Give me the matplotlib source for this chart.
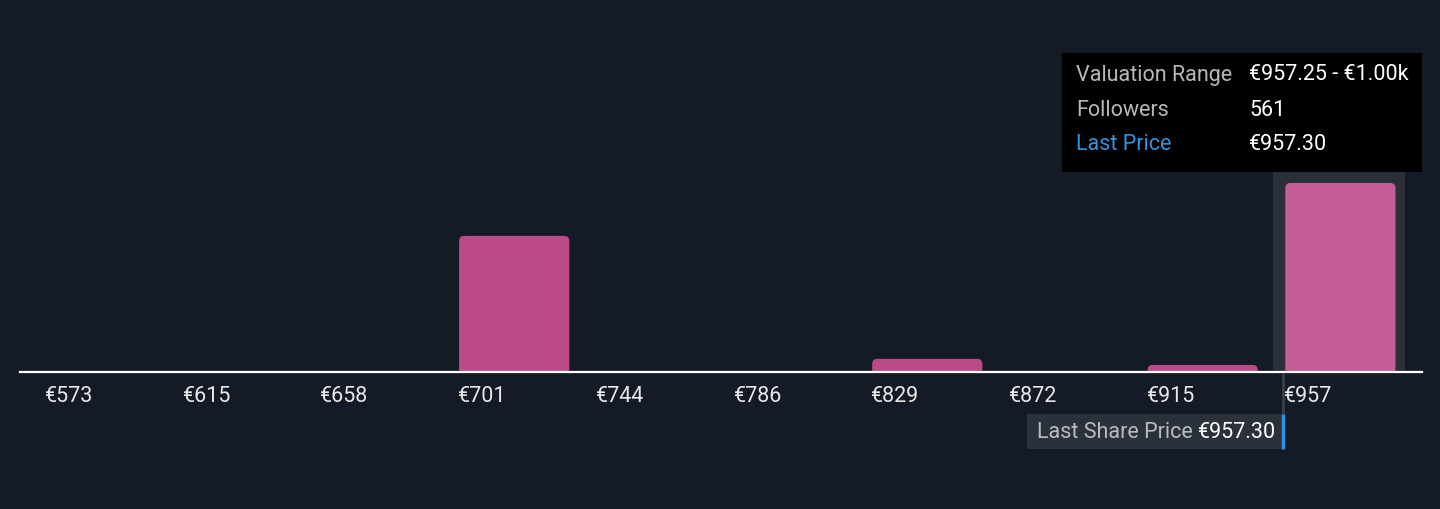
import matplotlib
matplotlib.use("Agg")
import matplotlib.pyplot as plt
from matplotlib.patches import FancyBboxPatch, Rectangle
from matplotlib.lines import Line2D

# ---- data ----
bin_starts = [572.5, 615.25, 658.0, 700.75, 743.5, 786.25, 829.0, 871.75, 914.5, 957.25]
bin_width = 42.75
counts = [0, 0, 0, 404, 0, 0, 39, 0, 21, 561]
tick_labels = ["€573", "€615", "€658", "€701", "€744", "€786", "€829", "€872", "€915", "€957"]
last_price = 957.30
highlight_index = 9
tooltip_rows = [("Valuation Range", "€957.25 - €1.00k"), ("Followers", "561"), ("Last Price", "€957.30")]

# ---- style ----
BG = "#151b26"
BAR = "#bb4b88"
BAR_HI = "#c55d97"
HI_BG = "#2a2f38"
W, H = 1440, 509
plt.rcParams["font.family"] = ["Roboto", "DejaVu Sans"]
FS = 15.5

fig = plt.figure(figsize=(W / 100, H / 100), dpi=100, facecolor=BG)
ax = fig.add_axes([0, 0, 1, 1], facecolor=BG)

px_per_unit = 137.7 / bin_width
x0_px = 45.0
xmin = bin_starts[0] - x0_px / px_per_unit
xmax = xmin + W / px_per_unit
axis_px = 372  # from top
y_per_px = counts[-1] / 189.0
ymin = -(H - axis_px) * y_per_px
ymax = axis_px * y_per_px
ax.set_xlim(xmin, xmax)
ax.set_ylim(ymin, ymax)
for s in ax.spines.values():
    s.set_visible(False)
ax.set_yticks([])
ax.set_xticks([])

ux = 1 / px_per_unit  # data x per px
bar_w = 0.8 * bin_width

# highlight background
hs = bin_starts[highlight_index]
ax.add_patch(Rectangle((hs - 11 * ux, 0), bar_w + 22 * ux, 200 * y_per_px,
                       facecolor=HI_BG, edgecolor="none", zorder=1))

clip = Rectangle((xmin, 0), xmax - xmin, ymax, transform=ax.transData)
r = 5 * ux
for i, (s, c) in enumerate(zip(bin_starts, counts)):
    if c <= 0:
        continue
    col = BAR_HI if i == highlight_index else BAR
    p = FancyBboxPatch((s + 1 * ux, -10 * y_per_px), bar_w, c + 10 * y_per_px,
                       boxstyle=f"round,pad=0,rounding_size={r}",
                       mutation_aspect=y_per_px / ux,
                       facecolor=col, edgecolor="none", zorder=2)
    ax.add_patch(p)
    p.set_clip_path(clip)

# axis line
ax.axhline(0, xmin=20 / W, xmax=1422 / W, color="white", lw=1.6, zorder=3)

# tick labels
for s, lab in zip(bin_starts, tick_labels):
    ax.text(s, -24.5 * y_per_px, lab, color="#e8e8e8", fontsize=FS, ha="left", va="center", zorder=4)

# figure-pixel transform helper (y from top)
def fp(x, y):
    return x / W, (H - y) / H

# tooltip box
fig.patches.append(Rectangle(fp(1062, 172), 360 / W, 119 / H, transform=fig.transFigure,
                             facecolor="black", edgecolor="none", zorder=5))
row_y = [75, 110, 145]
for (lab, val), yy in zip(tooltip_rows, row_y):
    lc = "#3593de" if lab == "Last Price" else "#b8b8b8"
    fig.text(*fp(1076, yy), lab, color=lc, fontsize=FS, ha="left", va="center", zorder=6)
    fig.text(*fp(1249, yy), val, color="white", fontsize=FS, ha="left", va="center", zorder=6)

# last share price marker (x position from data)
lp_px = ax.transData.transform((last_price, 0))[0]
marker_x = (lp_px - 1) / W
fig.lines.append(Line2D([marker_x, marker_x], [(H - 414) / H, (H - 373) / H], color="#3a3f48", lw=2,
                        transform=fig.transFigure, zorder=4, solid_capstyle="butt"))
fig.patches.append(Rectangle(fp(1027, 449), (lp_px - 2.5 - 1027) / W, 35 / H, transform=fig.transFigure,
                             facecolor="#2b313b", edgecolor="none", zorder=5))
t1 = fig.text(*fp(1037, 432), "Last Share Price ", color="#b8bcc2", fontsize=FS,
              ha="left", va="center", zorder=6)
fig.canvas.draw()
bb = t1.get_window_extent()
fig.text(bb.x1 / W, (H - 432) / H, f"€{last_price:.2f}", color="white", fontsize=FS,
         ha="left", va="center", zorder=6)
fig.lines.append(Line2D([marker_x, marker_x], [(H - 449) / H, (H - 414) / H], color="#2f8fe0", lw=2.5,
                        transform=fig.transFigure, zorder=7, solid_capstyle="butt"))

fig.savefig("out.png", dpi=100, facecolor=BG)
